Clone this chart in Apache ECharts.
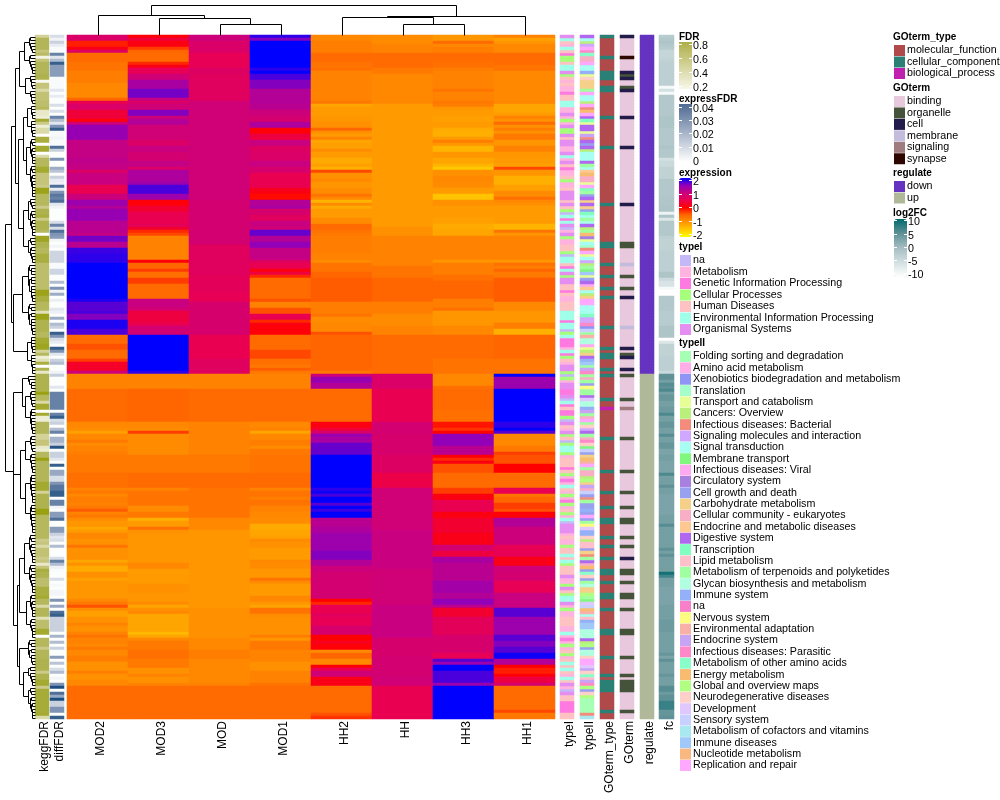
<!DOCTYPE html>
<html><head><meta charset="utf-8">
<style>html,body{margin:0;padding:0;background:#fff}#c{width:1000px;height:800px}</style>
<script src="https://cdn.jsdelivr.net/npm/echarts@6/dist/echarts.min.js"></script>
</head><body><div id="c"></div>
<script>
// Every numeric column is a list of pairs: first row of a run, value of that run.
const columns = ['MOD2','MOD3','MOD','MOD1','HH2','HH','HH3','HH1'];
const MOD2=[0,.75,2,-.15,4,.15,5,.7,6,-.55,9,-.65,12,-.75,16,-.85,21,-.5,22,.5,23,.75,25,.35,28,.05,29,.9,30,1.45,35,1.05,41,1.1,43,1.05,45,.7,46,1,50,.5,53,.95,55,1.4,57,1.2,58,1.45,62,1.15,66,1.05,67,1.6,69,1.15,71,1.8,73,1.85,76,2,88,1.9,89,1.7,92,1.75,93,1.55,95,1.9,98,1.75,100,-.55,103,-.4,105,-.55,108,-.3,109,.25,112,.95,113,-.8,118,-.55,129,-.85,131,-.9,132,-1.1,133,-.85,135,-.7,136,-.9,137,-.8,139,-.75,140,-.7,146,-.6,151,-.8,152,-.7,153,-.85,154,-.75,156,-.8,157,-.7,158,-.45,159,-.8,160,-.7,161,-.9,162,-1,164,-1.15,165,-1.05,166,-.85,168,-.95,170,-.65,171,-.95,175,-1.15,176,-.95,177,-1.2,179,-.95,181,-1.1,182,-1,188,-.85,189,-.7,190,-.4,191,-.9,192,-1.1,194,-.95,196,-.8,197,-.95,199,-.8,200,-.65,201,-.8,203,-.85,204,-.7,205,-.85,207,-.75,209,-.95,212,-.75,213,-.95,215,-.85,217,-.55];
const MOD3=[0,.05,1,.35,2,.1,4,-.3,5,-.5,6,-.55,9,-.2,10,.15,11,.55,13,.9,15,1.3,18,1.6,21,1,22,.75,23,.9,25,1.55,27,.95,28,1.2,30,.9,35,.75,37,1,39,.85,42,1.05,44,.75,45,1.25,49,1.4,50,1.75,53,1.4,55,.05,57,.3,59,.5,63,.6,64,.3,65,-.2,66,-.35,67,-.8,75,.05,76,-.5,78,-.3,79,-.6,81,-.3,83,-.55,88,1,91,.85,92,.4,96,.5,97,.85,100,2,112,1.85,113,-.8,118,-.5,129,-.85,131,-.9,132,-.3,133,-.9,140,-.7,146,-.55,151,-.8,152,-.65,157,-.9,159,-.7,161,-1.25,162,-1.05,164,-.6,165,-.95,166,-1,176,-.85,178,-1.05,183,-.95,186,-1,189,-.9,190,-1.15,191,-.95,192,-.85,193,-1.15,199,-1.35,200,-1.15,201,-.85,202,-.7,205,-.6,208,-.7,211,-.95,213,-.8,214,-.95,216,-.8,217,-.55];
const MOD=[0,.95,2,.75,6,.55,11,.7,13,.65,22,.9,55,.85,70,.65,80,.6,86,.55,89,.8,100,.5,108,.65,113,-.8,118,-.55,129,-.8,140,-.7,146,-.55,151,-.65,161,-.85,165,-1,191,-.95,201,-.85,205,-.75,208,-.85,216,-.8,217,-.55];
const MOD1=[0,1.85,1,1.55,2,2,11,1.85,12,2,13,1.75,15,1.55,18,1.2,23,1.15,25,.95,27,.85,28,.8,29,1.25,31,.05,33,.4,35,1,37,.7,39,.75,42,1,44,.8,46,.5,51,.2,52,.1,53,-.05,55,1.2,57,1.3,58,.8,60,.65,62,1,64,.9,65,1.65,67,1.2,69,1.5,71,1.05,75,.7,76,.5,78,.1,79,.4,80,-.2,81,-.55,88,-.4,89,-.8,91,-.4,93,.5,95,-.2,96,.1,97,.05,100,-.55,105,-.35,108,-.6,110,-.7,111,-.45,112,-.7,113,-.8,118,-.55,129,-.85,131,-.8,132,-1.15,133,-.85,135,-.75,137,-.9,138,-.7,140,-.65,146,-.55,151,-.8,152,-.65,154,-.75,155,-.65,157,-.8,159,-.85,161,-.9,163,-1.2,165,-1.15,167,-1.1,168,-.9,169,-.95,171,-1.05,175,-.85,176,-.9,178,-1,181,-.65,182,-.9,183,-1.05,187,-.85,189,-1,190,-1.15,191,-.65,193,-.9,194,-.95,200,-.75,201,-1,202,-.7,205,-.8,209,-.95,212,-.8,216,-.65,217,-.55];
const HH2=[0,-.85,2,-.75,6,-.55,9,-.65,11,-.6,12,-.8,22,-.7,23,-1.15,24,-1.05,27,-1,29,-.95,31,-.5,32,-.95,33,-1.05,34,-.8,35,-1.15,36,-1.1,38,-.9,39,-1.05,41,-1.2,43,-1.1,44,-1.25,45,-.35,46,-.95,48,-.85,49,-1,51,-.9,53,-.65,54,-.85,55,-1.3,56,-.9,57,-1.2,58,-1.05,61,-.9,63,-.55,65,-.65,66,-.7,67,-.75,73,-.8,75,-.9,76,-.65,79,-.5,81,-.45,89,-.75,93,-.65,94,-.9,96,-.85,99,-.4,100,-.5,112,-.7,113,.9,114,1.45,116,1.2,118,-.55,129,.1,131,.35,132,.8,133,1.45,134,1.3,136,1.65,140,2,151,1.85,152,1.95,153,1.75,154,2,156,1.7,157,2,158,1.8,159,2,161,1.15,164,1.25,166,1.4,172,1.55,175,1.2,177,.95,179,.85,188,0,189,-.2,190,.5,193,.65,194,.55,197,.8,200,0,202,.2,203,.05,205,-.9,206,-.5,208,-.85,210,.05,211,.5,212,.9,214,.15,217,-.55,226,-.4,227,-.25];
const HH=[0,-.9,3,-.8,6,-.55,11,-.7,13,-.85,23,-1.05,64,-.95,67,-.8,77,-.65,81,-.5,89,-.75,93,-.9,97,-.8,100,-.55,113,.75,118,.5,129,.85,133,.8,140,.7,146,.45,151,.9,165,1,178,.9,190,1,201,.8,207,.85,214,.9,217,.5];
const HH3=[0,-1,2,-.55,3,-.85,4,-.75,6,-.55,9,-.6,11,-.75,12,-.8,18,-.65,19,-.8,22,-.7,23,-.75,24,-1,25,-1.05,27,-1.1,29,-1.05,31,-1.2,32,-1.25,34,-1.05,35,-.75,36,-1,37,-1.3,39,-1,41,-1.15,43,-1.3,44,-1.5,45,-.95,47,-.85,49,-.9,51,-1.05,53,-1.45,55,-.95,57,-1.05,61,-1.1,63,-1.2,65,-1.15,67,-.8,75,-1,76,-.75,80,-.6,82,-.5,88,-.75,91,-.6,92,-1,97,-.85,100,-.55,108,-.65,113,-.85,117,-.6,118,-.55,125,-.6,129,-.1,131,-.25,132,0,133,1.5,137,1.15,140,.05,141,-.2,142,.1,143,-.4,146,-.55,151,-.3,153,.1,155,.5,159,.1,161,.3,166,.15,170,.85,172,.4,174,1.3,176,1.15,182,1.35,186,1.2,188,1.5,190,1.1,191,.3,194,.6,200,.8,206,.55,208,1.7,209,1.4,210,2,212,1.75,216,1.4,217,2];
const HH1=[0,-.8,1,-1.1,2,-1,3,-.85,6,-.55,10,-.65,12,-.85,23,-1.15,26,-1.05,27,-.8,28,-.95,29,-.55,30,-.95,31,-.75,32,-.95,33,-.7,35,-1,37,-.8,39,-1,41,-1.05,43,-1.1,44,-.35,45,-1,47,-1.25,50,-1.1,52,-.9,54,-.6,55,-.85,56,-.95,57,-1.05,63,-1.3,65,-.65,66,-1,67,-.8,75,-1,76,-.6,77,-.75,78,-.5,79,-.7,81,-.45,89,-.85,92,-1,96,-.75,98,-1.25,100,-.5,108,-.65,113,2,114,1.4,118,2,129,1.85,131,2,132,1.7,133,-.85,137,-.7,139,-.3,140,-.4,143,0,146,-.55,151,.5,153,-.65,154,-.5,156,-.3,158,-.4,159,.05,161,1.2,164,.95,170,.55,174,.15,177,.9,179,.85,182,.55,186,1,191,1.7,194,1.4,200,1.7,202,1.55,204,1.7,206,1.95,208,1.2,210,0,211,-.15,213,.05,214,.4,216,.85,217,-.55,225,-.35,226,-.7];
const keggFDR=[0,.5,1,.72,5,.6,6,.68,7,.25,8,.6,9,.72,13,.75,15,.2,16,.6,18,.45,19,.62,22,.65,24,.7,25,.35,27,.3,28,.85,29,.55,30,.3,31,.45,33,.15,34,.8,36,.15,37,.85,39,.15,40,.45,41,.7,44,.85,46,.6,50,.55,51,.92,53,.7,57,.55,58,.75,60,.8,61,.55,62,.75,65,.7,66,.15,67,.9,69,.75,71,.7,73,.8,76,.65,85,.92,87,.8,89,.7,92,.4,93,.92,95,.75,99,.7,101,.85,103,.9,105,.5,106,.7,107,.3,108,.4,109,.8,110,.15,111,.75,112,.35,113,.75,119,.95,120,.7,122,.45,123,.85,125,.15,126,.85,127,.3,129,.72,133,.5,135,.6,137,.35,138,.3,139,.7,141,.95,142,.72,149,.85,152,.5,153,.75,158,.95,160,.7,168,.55,169,.6,170,.45,171,.62,174,.55,175,.6,176,.35,177,.6,178,.8,179,.75,181,.65,184,.8,187,.85,188,.7,190,.45,191,.72,194,.4,195,.65,198,.85,200,.15,201,.7,204,.55,205,.72,208,.75,212,.55,213,.75,215,.85,217,.55,218,.82,226,.85,227,.45];
const diffFDR=[0,.012,1,.005,2,.015,3,.008,4,.002,6,.035,7,.01,8,.02,9,.045,10,.028,14,.002,18,.01,19,.001,20,.008,21,.001,23,.012,24,.001,25,.012,26,.001,27,.035,28,.02,29,.01,30,.03,31,.045,32,.003,34,.005,35,.002,37,.04,38,.015,39,.001,41,.03,42,.001,44,.024,45,.018,46,.001,47,.015,48,.008,49,.006,50,.04,51,.008,52,.03,53,.038,54,.035,55,.04,56,.01,57,.005,58,.001,62,.012,63,.035,64,.012,65,.04,66,.03,67,.028,68,.004,69,.001,70,.004,71,.001,72,.014,76,.002,78,.014,80,.001,82,.02,83,.001,84,.03,85,.005,86,.024,87,.001,88,.007,89,.001,91,.01,92,.006,93,.001,94,.024,95,.001,96,.02,97,.015,98,.001,99,.045,100,.03,101,.012,102,.008,103,.001,104,.045,105,.03,106,.01,107,.001,108,.015,109,.02,110,.001,112,.005,113,.016,114,.001,117,.01,118,.001,119,.035,125,.001,126,.035,127,.045,128,.012,129,.015,130,.001,131,.02,132,.035,133,.001,134,.022,136,.015,137,.048,138,.001,139,.015,141,.01,142,.001,143,.045,144,.001,145,.025,147,.012,149,.03,150,.038,152,.045,154,.001,155,.035,157,.005,158,.001,159,.028,161,.04,162,.001,164,.028,166,.015,167,.01,168,.012,169,.001,170,.02,171,.001,174,.012,175,.035,176,.02,177,.006,178,.002,179,.001,181,.012,182,.001,183,.003,184,.001,185,.004,187,.001,188,.03,189,.001,190,.025,191,.001,192,.04,193,.045,194,.015,199,.001,200,.022,201,.001,202,.02,203,.001,204,.015,205,.001,207,.028,208,.001,209,.018,210,.001,211,.012,212,.02,213,.001,214,.004,215,.001,216,.03,217,.05,218,.001,219,.04,220,.025,221,.05,222,.015,224,.03,226,.001,227,.045];
const log2FC=[0,-2,1,-1.5,2,-1,3,-1.5,4,-2,5,-3.5,8,-3,9,-2.5,17,-9,18,-5,19,-9,20,-1.5,27,-1,31,-1.5,37,-1,38,-1.5,41,-5,42,-4,44,-3,48,-1.5,54,-1.2,57,-1,59,-8,60,-1,61,-6,62,-1.5,67,-2.5,68,-3,72,-2.5,79,-1,81,-4,82,-5.5,84,-9,85,-10,87,-1.5,92,-2,97,-1,101,-10,102,-6,103,-3,107,-2.5,112,-4,113,5,115,3.5,116,5.5,117,5,118,6,119,3.5,120,4.5,122,3.5,124,4,126,6,127,3.5,129,4.5,131,3.5,133,5.5,134,3.5,136,4.5,138,3,140,3.5,142,3,146,6,147,3.5,150,5,151,3.5,153,3,157,3,160,3.5,163,5.5,164,3.5,171,5,172,3.5,173,5,174,3.5,179,9,180,6.5,181,3.5,184,3,190,3.5,195,4,199,3.5,206,4.5,207,3,208,5,209,3.5,213,4.5,214,3.5,217,5.5,219,4,220,5,222,7,225,4.5,227,5];

const typeINames=['na','Metabolism','Genetic Information Processing','Cellular Processes','Human Diseases','Environmental Information Processing','Organismal Systems'];
const typeIColors=['#c4b8f8','#ffb3de','#ff7ae0','#a6ff7a','#ffc2c2','#a0ffe8','#e38ef0'];
const typeIRows='6541542334'+'5563414112'+'4455116131'+'6336466116'+'5164211431'+'1466646430'+'5256016311'+'4430554256'+'3664424114'+'4455525503'+'5222152341'+'6630316622'+'6052422306'+'4163403553'+'1444243121'+'5413123143'+'1506661411'+'3445453444'+'6113643556'+'1311444115'+'1213143145'+'4541546106'+'44222244';
const typeIINames=['Folding sorting and degradation','Amino acid metabolism','Xenobiotics biodegradation and metabolism','Translation','Transport and catabolism','Cancers: Overview','Infectious diseases: Bacterial','Signaling molecules and interaction','Signal transduction','Membrane transport','Infectious diseases: Viral','Circulatory system','Cell growth and death','Carbohydrate metabolism','Cellular community - eukaryotes','Endocrine and metabolic diseases','Digestive system','Transcription','Lipid metabolism','Metabolism of terpenoids and polyketides','Glycan biosynthesis and metabolism','Immune system','na','Nervous system','Environmental adaptation','Endocrine system','Infectious diseases: Parasitic','Metabolism of other amino acids','Energy metabolism','Global and overview maps','Neurodegenerative diseases','Development','Sensory system','Metabolism of cofactors and vitamins','Immune diseases','Nucleotide metabolism','Replication and repair'];
const typeIIColors=['#a6ffb4','#ffaee8','#8f95f5','#a4ffc8','#e8ff96','#b8f07a','#f48c7c','#d0a8ff','#a6fff0','#80f880','#ffaaf0','#a880e0','#98a0f0','#f4d088','#f8aec4','#ffc890','#b068f0','#80ffc0','#ffc0cc','#a0ffa0','#b0ffe0','#94b0f8','#f880c8','#fcfc80','#f8b0a8','#c8a4f4','#ff88c8','#88ffc8','#f8bc70','#b0ff80','#ffd0c8','#e0c8ff','#c8d0ff','#a8e8f0','#a0c8f8','#f8b880','#ffa8ff'];
const typeIIKeys='0123456789abcdefghijklmnopqrstuvwxyzA';
const typeIIRows='g857AqreeA'+'88l4udddjA'+'885A6sAgh4'+'gg4p6gcg58'+'88gj8fsee4'+'Ahjcgdgdch'+'8j8g5jsb48'+'36A4875j9y'+'4cgaf85dAA'+'888h77q2wj'+'okka45dgly'+'jpqjejcnjj'+'gvkklpjeAj'+'u7gjequ9wc'+'dsoAjee5td'+'pewc6jcclc'+'Acjnvllu5i'+'icd6jgescr'+'ucjkddtj9v'+'wso8ilyykk'+'kg5tckkuAA'+'vpuripqtcu'+'t000006x';
const goTypeNames=['molecular_function','cellular_component','biological_process'];
const goTypeColors=['#b04a4a','#2a8075','#c020b0'];
const goTypeRows=[[1,[0,7,12,13,14,17,18,27,37,56,69,70,76,80,84,87,97,104,106,107,111,113,121,134,145,152,157,161,162,167,170,174,178,179,182,186,187,191,198,199,207,213,215,216,217,218,225]],[2,[124]]];
const goNames=['binding','organelle','cell','membrane','signaling','synapse'];
const goColors=['#e8c8dc','#45533a','#231c4b','#c4bcdc','#a07c80','#2e0800'];
const goRows=[[2,[0,12,14,18,27,37,56,87,104,107,111,174]],[5,[7]],[1,[13,17,69,70,80,84,106,113,121,134,145,152,157,161,162,167,170,178,179,182,186,187,191,198,199,207,213,215,216,217,218,225]],[3,[76,97]],[4,[124]]];
const regulateNames=['down','up'];
const regulateColors=['#6433c0','#b0b89a'];
const firstUpRow=113;
// Row dendrogram: [merge height, child, child]; a plain number is a tight block of that many rows.
const rowTree=[30,
 [24,[20,[16,[11,6,7],[10,5,5]],[17,[12,[8,5,6],[9,9,11]],[12,13,9]]],[22.3,[13,13,11],[8,6,7]]],
 [22.3,[13.3,5,[10,6,9]],[22,[14.7,[10,6,7],[10,10,10]],[18.3,[15.7,[11.3,10,10],[9,8,7]],[15.7,9,[12,7,11]]]]]];
const colTree=[30,[20,0,[17.3,1,[11,2,3]]],[19,[18,4,[11,5,6]],7]];

const ROWS=228;
const rows=[...Array(ROWS).keys()];
function expand(runs){const o=[];for(let i=0;i<runs.length;i+=2){const end=i+2<runs.length?runs[i+2]:ROWS;for(let r=runs[i];r<end;r++)o[r]=runs[i+1];}return o;}
function catList(groups){const o=rows.map(()=>0);groups.forEach(g=>g[1].forEach(r=>o[r]=g[0]));return o;}
const main=[MOD2,MOD3,MOD,MOD1,HH2,HH,HH3,HH1].map(expand);
const FONT='"Liberation Sans",Arial,sans-serif';

const grid=[],xAxis=[],yAxis=[],series=[],visualMap=[],legend=[],title=[],graphic=[];
function addGrid(left,width,names,top=35,height=684){
  grid.push({left,width,top,height,containLabel:false});
  const i=grid.length-1;
  xAxis.push({type:'category',gridIndex:i,data:names,axisLine:{show:false},axisTick:{show:false},splitLine:{show:false},
    axisLabel:{rotate:90,interval:0,margin:2,verticalAlign:'top',padding:[-3,0,0,0],fontSize:12,fontFamily:FONT,color:'#000'}});
  yAxis.push({type:'category',gridIndex:i,data:rows,inverse:true,show:false});
  return i;
}
function hm(i,name,data,color){series.push({type:'heatmap',name,xAxisIndex:i,yAxisIndex:i,data,silent:true,progressive:0,
  itemStyle:color?{color}:{},emphasis:{disabled:true}});return series.length-1;}
function numStrip(left,name,vals){const i=addGrid(left,14,[name]);return hm(i,name,vals.map((v,r)=>[0,r,v]));}
function catStrip(left,width,label,names,colors,vals){const i=addGrid(left,width,[label]);
  names.forEach((n,k)=>{hm(i,n,vals.map((v,r)=>v===k?[0,r,1]:null).filter(Boolean),colors[k]);});}
function vm(seriesIndex,min,max,color,show,left,top,h){visualMap.push({type:'continuous',seriesIndex,dimension:2,min,max,show,calculable:false,
  left:left||0,top:top||0,itemWidth:13,itemHeight:h||50,padding:0,text:null,inRange:{color},hoverLink:false,silent:true});}

const sKegg=numStrip(35,'keggFDR',expand(keggFDR));
const sDiff=numStrip(50,'diffFDR',expand(diffFDR));
const gMain=addGrid(67,488,columns);
const mainData=[];main.forEach((c,x)=>c.forEach((v,r)=>mainData.push([x,r,v])));
const sMain=hm(gMain,'expression',mainData);
catStrip(560,14,'typeI',typeINames,typeIColors,[...typeIRows].map(Number));
catStrip(580,14,'typeII',typeIINames,typeIIColors,[...typeIIRows].map(c=>typeIIKeys.indexOf(c)));
catStrip(600,14,'GOterm_type',goTypeNames,goTypeColors,catList(goTypeRows));
catStrip(620,14,'GOterm',goNames,goColors,catList(goRows));
catStrip(640,14,'regulate',regulateNames,regulateColors,rows.map(r=>r<firstUpRow?0:1));
const sFc=numStrip(659,'fc',expand(log2FC));
grid[grid.length-1].width=15;

vm(sKegg,.15,.95,['#ffffff','#e8e8c8','#ccca88','#aeb24f','#9aa010'],false);
vm(sDiff,0,.05,['#ffffff','#e2e6ee','#b0bcd0','#7f94b5','#4f6f98','#1c4f80'],false);
vm(sMain,-2,2,['#ffff00','#ffc800','#ff9600','#ff6600','#ff0000','#ea0050','#c9007f','#9200b8','#0000ff'],true,679,178,59);
vm(sFc,-10,10,['#ffffff','#d3e0e1','#a5bec2','#5f9196','#006a6e'],true,894,219,58);
function bar(left,top,h,from,to){graphic.push({type:'rect',silent:true,z:40,shape:{x:left,y:top,width:13,height:h},
  style:{fill:new echarts.graphic.LinearGradient(0,0,0,1,[{offset:0,color:from},{offset:1,color:to}])}});}
bar(679,42,47,'#aeae48','#f7f7ea');
bar(679,104,58,'#4f6a92','#ffffff');

// Dendrograms, laid out from the merge lists through value axes.
function leafBlock(n,h,start,links){ if(n===1) return {p:start+.5,h:0};
  const a=Math.max(1,Math.floor(n/3)),lo=Math.max(2.6,h*.8),A=leafBlock(a,lo,start,links),B=leafBlock(n-a,lo,start+a,links);
  links.push([A.h,A.p,h,B.p,B.h]);return {p:(A.p+B.p)/2,h};}
function layoutRow(node,state,links,ph){ if(typeof node==='number'){const r=leafBlock(node,Math.min(7,ph*.55),state.i,links);state.i+=node;return r;}
  const A=layoutRow(node[1],state,links,node[0]),B=layoutRow(node[2],state,links,node[0]);
  links.push([A.h,A.p,node[0],B.p,B.h]);return {p:(A.p+B.p)/2,h:node[0]};}
function layoutCol(node,links){ if(typeof node==='number')return {p:node+.5,h:0};
  const A=layoutCol(node[1],links),B=layoutCol(node[2],links);links.push([A.h,A.p,node[0],B.p,B.h]);return {p:(A.p+B.p)/2,h:node[0]};}
const rowLinks=[],colLinks=[];layoutRow(rowTree,{i:0},rowLinks,30);layoutCol(colTree,colLinks);
function dendro(left,width,top,height,xa,ya,links,horizontal){
  grid.push({left,width,top,height});const i=grid.length-1;xAxis.push(Object.assign({gridIndex:i,type:'value',show:false},xa));yAxis.push(Object.assign({gridIndex:i,type:'value',show:false},ya));
  series.push({type:'custom',xAxisIndex:i,yAxisIndex:i,silent:true,clip:false,data:links,encode:horizontal?{x:[0,2,4],y:[1,3]}:{x:[1,3],y:[0,2,4]},
    renderItem(p,api){const v=k=>api.value(k);const pt=(h,q)=>{const c=api.coord(horizontal?[h,q]:[q,h]);return [Math.round(c[0])+.5,Math.round(c[1])+.5];};
      const pts=[pt(v(0),v(1)),pt(v(2),v(1)),pt(v(2),v(3)),pt(v(4),v(3))];
      return {type:'polyline',shape:{points:pts},style:{stroke:'#000',lineWidth:1,fill:null}};}});
}
dendro(5,30,35,684,{min:0,max:30,inverse:true},{min:0,max:ROWS,inverse:true},rowLinks,true);
dendro(67,488,5,30,{min:0,max:8},{min:0,max:30},colLinks,false);

// Legends
function ttl(text,left,cy){title.push({text,left,top:cy-5,padding:0,textStyle:{fontSize:10,fontWeight:'bold',fontFamily:FONT,color:'#000'}});}
function lgd(names,colors,left,top,gap){legend.push({orient:'vertical',left,top,padding:0,itemWidth:11,itemHeight:11,itemGap:gap,icon:'rect',selectedMode:false,
  textStyle:{fontSize:10.7,fontFamily:FONT,color:'#000',padding:[0,0,0,-3]},
  data:names.map((n,k)=>({name:n,itemStyle:{color:colors[k]}}))});}
ttl('FDR',679,37);ttl('expressFDR',679,99);ttl('expression',679,173);ttl('typeI',679,247);ttl('typeII',679,343);
ttl('GOterm_type',893,37);ttl('GOterm',893,88);ttl('regulate',893,173);ttl('log2FC',893,213);
lgd(typeINames,typeIColors,680,255,.5);
lgd(typeIINames,typeIIColors,680,351,.36);
lgd(goTypeNames,goTypeColors,894,45,.5);
lgd(goNames,goColors,894,96,.45);
lgd(regulateNames,regulateColors,894,181,.5);
function ticks(labels,ys,barLeft,barW){labels.forEach((t,k)=>{const y=ys[k];
  graphic.push({type:'text',left:barLeft+barW+1,top:y-3,silent:true,z:50,style:{text:t,fontSize:10.7,fontFamily:FONT,fill:'#000'}});
  [[barLeft,barLeft+3],[barLeft+barW-3,barLeft+barW]].forEach(s=>graphic.push({type:'line',silent:true,z:50,shape:{x1:s[0],y1:y+.5,x2:s[1],y2:y+.5},style:{stroke:'#fff',lineWidth:1}}));});}
ticks(['0.8','0.6','0.4','0.2'],[44,58,72,86],679,13);
ticks(['0.04','0.03','0.02','0.01','0'],[107,120,133,147,160],679,13);
ticks(['2','1','0','-1','-2'],[180,194,207,221,234],679,13);
ticks(['10','5','0','-5','-10'],[220,234,247,260,273],894,13);

const chart=echarts.init(document.getElementById('c'),null,{renderer:'canvas',width:1000,height:800});
chart.setOption({animation:false,backgroundColor:'#fff',tooltip:{show:false},grid,xAxis,yAxis,series,visualMap,legend,title,graphic});
</script></body></html>
